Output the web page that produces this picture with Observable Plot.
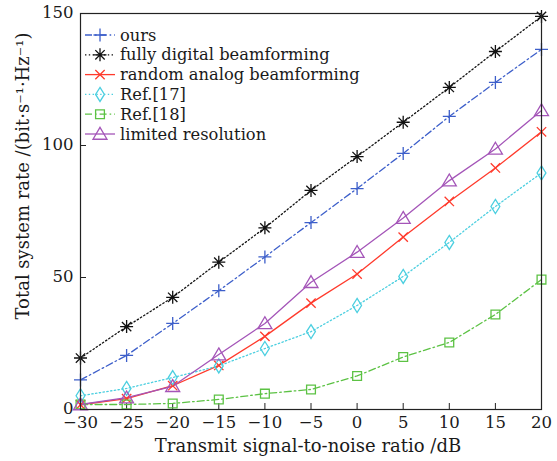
<!DOCTYPE html>
<html>
<head>
<meta charset="utf-8">
<script src="https://cdn.jsdelivr.net/npm/d3@7"></script>
<script src="https://cdn.jsdelivr.net/npm/@observablehq/plot@0.6"></script>
<style>
  html, body { margin: 0; padding: 0; background: #fff; }
  #chart { width: 557px; height: 461px; }
</style>
</head>
<body>
<div id="chart"></div>
<script>
// ---- data ----
const snr = [-30, -25, -20, -15, -10, -5, 0, 5, 10, 15, 20];
const ours = [11.2, 20.5, 32.6, 45.0, 57.8, 70.8, 83.7, 97.0, 111.0, 123.9, 136.4];
const fullyDigital = [19.5, 31.4, 42.5, 55.8, 68.8, 83.0, 95.8, 108.8, 122.0, 135.6, 148.9];
const randomAnalog = [1.8, 4.1, 9.0, 16.7, 27.7, 40.3, 51.3, 65.3, 78.8, 91.5, 105.2];
const ref17 = [5.2, 8.0, 12.1, 16.5, 23.1, 29.5, 39.4, 50.4, 63.3, 76.9, 89.6];
const ref18 = [1.9, 1.9, 2.3, 3.8, 6.0, 7.6, 12.7, 19.9, 25.4, 36.0, 49.2];
const limitedRes = [1.9, 4.5, 8.8, 20.8, 32.6, 48.2, 59.6, 72.5, 86.7, 98.7, 113.3];

const seriesNames = ["ours", "fully digital beamforming", "random analog beamforming", "Ref.[17]", "Ref.[18]", "limited resolution"];
const seriesValues = [ours, fullyDigital, randomAnalog, ref17, ref18, limitedRes];
const xTicks = [-30, -25, -20, -15, -10, -5, 0, 5, 10, 15, 20];
const yTicks = [0, 50, 100, 150];
const xLabel = "Transmit signal-to-noise ratio /dB";
const yLabel = "Total system rate /(bit·s⁻¹·Hz⁻¹)";

// ---- styles ----
const colors = ["#3d5fca", "#111111", "#ff3a2c", "#4ccfe0", "#5cc244", "#a455b8"];
const dashes = ["7,3,1.6,3", "1.4,2.4", null, "1.4,2.4", "7,3,1.6,3", null];
const radii = [6.5, 6.5, 5.5, 6.5, 5.5, 7];

const symPlus = { draw(c, size) { const s = Math.sqrt(size / Math.PI);
  c.moveTo(-s, 0); c.lineTo(s, 0); c.moveTo(0, -s); c.lineTo(0, s); } };
const symAsterisk = { draw(c, size) { const s = Math.sqrt(size / Math.PI), d = s * 0.72;
  c.moveTo(-s, 0); c.lineTo(s, 0); c.moveTo(0, -s); c.lineTo(0, s);
  c.moveTo(-d, -d); c.lineTo(d, d); c.moveTo(-d, d); c.lineTo(d, -d); } };
const symTimes = { draw(c, size) { const s = Math.sqrt(size / Math.PI) * 0.85;
  c.moveTo(-s, -s); c.lineTo(s, s); c.moveTo(-s, s); c.lineTo(s, -s); } };
const symDiamond = { draw(c, size) { const s = Math.sqrt(size / Math.PI);
  const w = s * 0.68, h = s * 1.08;
  c.moveTo(0, -h); c.lineTo(w, 0); c.lineTo(0, h); c.lineTo(-w, 0); c.closePath(); } };
const symSquare = { draw(c, size) { const s = Math.sqrt(size / Math.PI) * 0.8;
  c.moveTo(-s, -s); c.lineTo(s, -s); c.lineTo(s, s); c.lineTo(-s, s); c.closePath(); } };
const symTriangle = { draw(c, size) { const s = Math.sqrt(size / Math.PI);
  c.moveTo(0, -s * 0.95); c.lineTo(s * 1.0, s * 0.75); c.lineTo(-s * 1.0, s * 0.75); c.closePath(); } };
const symbols = [symPlus, symAsterisk, symTimes, symDiamond, symSquare, symTriangle];

const FONT = "DejaVu Serif";
const W = 557, H = 461;
const mL = 80, mR = 16, mT = 13, mB = 52;

const marks = [];
seriesNames.forEach((name, i) => {
  const data = snr.map((x, j) => ({ x, y: seriesValues[i][j] }));
  marks.push(Plot.line(data, { x: "x", y: "y", stroke: colors[i], strokeWidth: 1.3,
    strokeDasharray: dashes[i] ?? undefined }));
});
seriesNames.forEach((name, i) => {
  const data = snr.map((x, j) => ({ x, y: seriesValues[i][j] }));
  marks.push(Plot.dot(data, { x: "x", y: "y", stroke: colors[i], fill: "none", strokeWidth: 1.3,
    symbol: symbols[i], r: radii[i] }));
});

const chart = Plot.plot({
  width: W, height: H,
  marginLeft: mL, marginRight: mR, marginTop: mT, marginBottom: mB,
  style: { fontFamily: FONT, fontSize: "16.5px", color: "#1a1a1a", background: "#fff" },
  x: { domain: [-30, 20] },
  y: { domain: [0, 150] },
  marks: [
    Plot.axisX({ ticks: xTicks, tickSize: 0, tickPadding: 7, tickFormat: d => d < 0 ? "\u2212" + Math.abs(d) : String(d), label: null, fontSize: 16.5 }),
    Plot.axisY({ ticks: yTicks, tickSize: 0, tickPadding: 7, dy: -1, label: null, fontSize: 16.5 }),
    Plot.tickX(xTicks, { x: d => d, stroke: "#222", insetTop: (H - mT - mB) - 6 }),
    Plot.tickY(yTicks, { y: d => d, stroke: "#222", insetRight: (W - mL - mR) - 6 }),
    ...marks,
    Plot.frame({ stroke: "#222", strokeWidth: 1.2 }),
    Plot.text([xLabel], { text: d => d, frameAnchor: "bottom", dy: 37, dx: -3, lineAnchor: "middle", fontSize: 18, fill: "#1a1a1a" })
  ]
});

const svg = d3.select(chart);
// y-axis title
svg.append("text")
  .attr("transform", "translate(23,176) rotate(-90)")
  .attr("text-anchor", "middle").attr("dy", "0.34em")
  .attr("font-family", FONT).attr("font-size", 18).attr("fill", "#1a1a1a")
  .text(yLabel);

// legend (inside the plot, top-left)
const lg = svg.append("g").attr("font-family", FONT).attr("font-size", 16.3).attr("text-anchor", "start");
seriesNames.forEach((name, i) => {
  const yy = 35 + i * 19.8;
  lg.append("line").attr("x1", 85).attr("x2", 115).attr("y1", yy).attr("y2", yy)
    .attr("stroke", colors[i]).attr("stroke-width", 1.3)
    .attr("stroke-dasharray", dashes[i] ?? null);
  lg.append("path").attr("transform", `translate(100,${yy})`)
    .attr("d", d3.symbol(symbols[i], radii[i] * radii[i] * Math.PI)())
    .attr("stroke", colors[i]).attr("fill", "none").attr("stroke-width", 1.3);
  lg.append("text").attr("x", 120).attr("y", yy).attr("dy", "0.34em")
    .attr("fill", "#1a1a1a").text(name);
});

document.getElementById("chart").appendChild(chart);
</script>
</body>
</html>
